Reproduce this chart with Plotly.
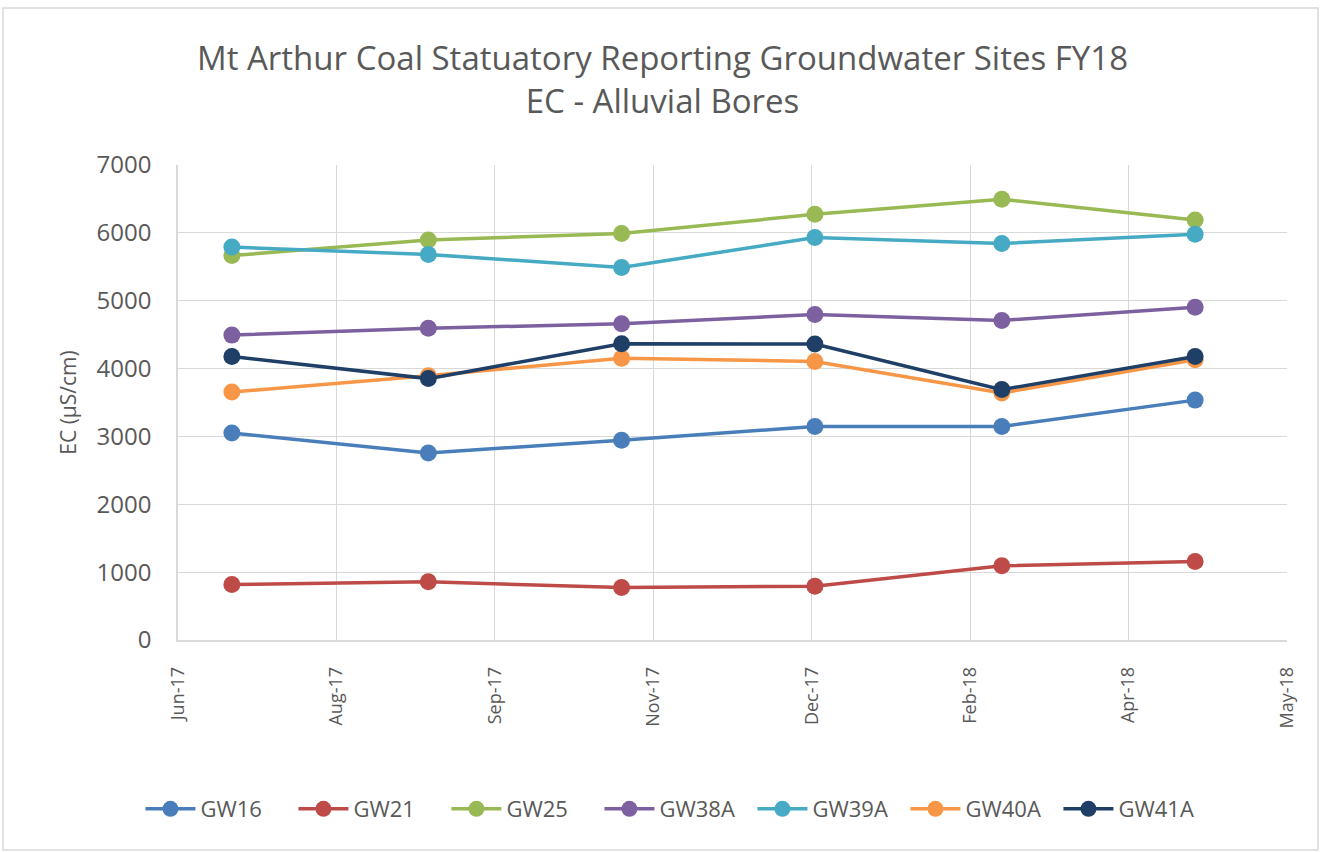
import plotly.graph_objects as go

dates = ["2017-07-01", "2017-09-01", "2017-11-01", "2018-01-01", "2018-03-01", "2018-05-01"]
series_names = ["GW16", "GW21", "GW25", "GW38A", "GW39A", "GW40A", "GW41A"]
gw16 = [3050, 2755, 2945, 3148, 3148, 3535]
gw21 = [818, 857, 775, 793, 1093, 1158]
gw25 = [5665, 5895, 5990, 6273, 6496, 6188]
gw38a = [4493, 4594, 4661, 4797, 4710, 4905]
gw39a = [5790, 5682, 5490, 5930, 5843, 5978]
gw40a = [3654, 3895, 4152, 4105, 3640, 4130]
gw41a = [4178, 3852, 4366, 4362, 3690, 4178]
colors = ["#4A7EBB", "#BE4B48", "#98B954", "#7D60A0", "#46AAC5", "#F79646", "#1F3F66"]

title_lines = ["Mt Arthur Coal Statuatory Reporting Groundwater Sites FY18", "EC - Alluvial Bores"]
y_title = "EC (µS/cm)"

values = [gw16, gw21, gw25, gw38a, gw39a, gw40a, gw41a]

fig = go.Figure()
for name, vals, col in zip(series_names, values, colors):
    fig.add_trace(go.Scatter(
        x=dates, y=vals, name=name, mode="lines+markers",
        line=dict(color=col, width=3.5),
        marker=dict(color=col, size=17),
    ))

W, H = 1325, 852
L, R, T, B = 178, 38, 165, 212
pw = W - L - R
ph = H - T - B

fig.update_layout(
    width=W, height=H,
    margin=dict(l=L, r=R, t=T, b=B, autoexpand=False),
    paper_bgcolor="white", plot_bgcolor="white",
    font=dict(family="Open Sans, Calibri, sans-serif", color="#595959"),
    title=dict(text="<br>".join(title_lines), x=0.5, xanchor="center",
               y=1 - 70 / H, yanchor="middle",
               font=dict(size=33, color="#595959")),
    showlegend=True,
    legend=dict(orientation="h", x=0.449, xanchor="center", y=-(809 - 640) / ph, yanchor="middle",
                font=dict(size=22, color="#595959"), itemwidth=50,
                entrywidth=88, entrywidthmode="pixels"),
    xaxis=dict(
        type="date",
        range=["2017-06-14", "2018-05-30"],
        tick0="2017-06-14", dtick=50 * 86400000,
        tickformat="%b-%y", tickangle=-90,
        showgrid=True, gridcolor="#D9D9D9", gridwidth=1,
        showline=True, linecolor="#D9D9D9", linewidth=1.5,
        ticks="", tickfont=dict(size=18, color="#595959"),
        ticklabelstandoff=18,
        zeroline=False,
    ),
    yaxis=dict(
        range=[0, 7000], dtick=1000,
        showgrid=True, gridcolor="#D9D9D9", gridwidth=1,
        showline=True, linecolor="#D9D9D9", linewidth=1.5,
        ticks="", tickfont=dict(size=24, color="#595959"),
        ticklabelstandoff=20,
        title=dict(text=y_title, font=dict(size=21, color="#595959"), standoff=14),
        zeroline=False,
    ),
)

# outer chart frame
fig.add_shape(type="rect", xref="paper", yref="paper",
              x0=(3 - L) / pw, x1=(W - 7 - L) / pw,
              y0=-(H - 2 - T - ph) / ph, y1=1 + (T - 8) / ph,
              line=dict(color="#D9D9D9", width=1.5), fillcolor="rgba(0,0,0,0)", layer="below")

fig.write_html("out.html", config={"displayModeBar": False},
               post_script="document.body.style.margin='0';document.body.style.overflow='hidden';")
